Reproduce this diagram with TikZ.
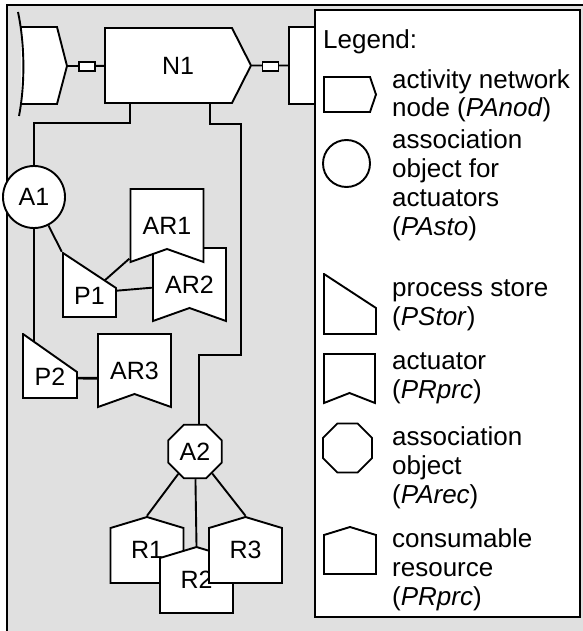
\documentclass[tikz,border=0pt]{standalone}
\usepackage{fontspec}
\setmainfont{Liberation Sans}
\usetikzlibrary{shapes.geometric,calc}
\definecolor{panelgray}{HTML}{E0E0E0}
\pgfdeclarelayer{back}
\pgfdeclarelayer{wires}
\pgfsetlayers{back,wires,main}
\newcommand{\labelfont}{\fontsize{25}{28}\selectfont}
\newcommand{\legfont}{\fontsize{26}{28.7}\selectfont}
\tikzset{
  outline/.style={draw,line width=1.9pt,fill=white},
  wire/.style={line width=1.9pt},
  obj/.style={inner sep=0pt,font=\labelfont},
  ptrlen/.store in=\ptrlen, ptrlen=20pt,
  droplen/.store in=\droplen, droplen=36pt,
  notchlen/.store in=\notchlen, notchlen=14pt,
  rooflen/.store in=\rooflen, rooflen=12pt,
  % the outlines are drawn 1pt inside the node box, so the clip keeps the whole line
  activity/.style={obj,path picture={
      \draw[outline] ([shift={(1pt,-1pt)}]path picture bounding box.north west)
        -- ([shift={(-\ptrlen,-1pt)}]path picture bounding box.north east)
        -- ([xshift=-1pt]path picture bounding box.east)
        -- ([shift={(-\ptrlen,1pt)}]path picture bounding box.south east)
        -- ([shift={(1pt,1pt)}]path picture bounding box.south west) -- cycle;}},
  pstore/.style={obj,text height=38pt,text depth=0pt,path picture={
      \draw[outline] ([shift={(1pt,-1pt)}]path picture bounding box.north west)
        -- ([shift={(-1pt,-\droplen)}]path picture bounding box.north east)
        -- ([shift={(-1pt,1pt)}]path picture bounding box.south east)
        -- ([shift={(1pt,1pt)}]path picture bounding box.south west) -- cycle;}},
  actuator/.style={obj,path picture={
      \draw[outline] ([shift={(1pt,-1pt)}]path picture bounding box.north west)
        -- ([shift={(-1pt,-1pt)}]path picture bounding box.north east)
        -- ([shift={(-1pt,1pt)}]path picture bounding box.south east)
        -- ([yshift=\notchlen]path picture bounding box.south)
        -- ([shift={(1pt,1pt)}]path picture bounding box.south west) -- cycle;}},
  resource/.style={obj,path picture={
      \draw[outline] ([shift={(1pt,1pt)}]path picture bounding box.south west)
        -- ([shift={(1pt,-\rooflen)}]path picture bounding box.north west)
        -- ([yshift=-1pt]path picture bounding box.north)
        -- ([shift={(-1pt,-\rooflen)}]path picture bounding box.north east)
        -- ([shift={(-1pt,1pt)}]path picture bounding box.south east) -- cycle;}},
  assoc/.style={obj,circle,outline,minimum size=62pt},
  assocobj/.style={obj,regular polygon,regular polygon sides=8,outline,minimum size=58pt},
  joint/.style={rectangle,outline,inner sep=0pt,minimum width=16pt,minimum height=9pt},
  panel/.style={draw,line width=2pt,fill=panelgray},
  legendbox/.style={rectangle,draw,line width=1.6pt,fill=white,inner sep=0pt,
                    minimum width=265pt,minimum height=607pt},
  % anchored on the baseline of the last line
  legtext/.style={anchor=base west,align=left,font=\legfont,inner sep=0pt},
}
\begin{document}
\begin{tikzpicture}[x=1pt,y=-1pt]
  \useasboundingbox (0,0) rectangle (582,631);
  \begin{pgfonlayer}{back}
    \draw[panel] (7,5) rectangle (640,680);
  \end{pgfonlayer}

  % the network: incoming stub, N1 and the outgoing node
  \coordinate (in1) at (67,66);
  \draw[outline] (21,27) -- (57,27) -- (in1) -- (57,104) -- (21,104);
  \draw[line width=1.9pt] (18,12) .. controls (25,45) and (25,85) .. (19,116);
  \node[joint] (c1) at (87,66.5) {};
  \node[activity,minimum width=148pt,minimum height=77pt] (N1) at (178,65.5) {N1};
  \node[joint] (c2) at (270.5,66.5) {};
  \node[rectangle,outline,minimum width=60pt,minimum height=77pt] (out1) at (319,65.5) {};

  % actuator side
  \node[assoc] (A1) at (34,197) {A1};
  \node[pstore,minimum width=55pt,minimum height=66pt] (P1) at (89.5,285) {P1};
  \node[pstore,droplen=39pt,minimum width=56pt,minimum height=66pt] (P2) at (50,366) {P2};
  \foreach \i/\x/\y in {2/189.5/284.5,1/167/225.5,3/134.5/370.5} {
    \node[actuator,minimum width=75pt,minimum height=75pt] (AR\i) at (\x,\y) {AR\i};
  }

  % resource side
  \node[assocobj] (A2) at (195,451.5) {A2};
  \foreach \i/\x/\y in {1/147/550,2/196.5/580,3/245.5/550} {
    \node[resource,minimum width=75pt,minimum height=68pt] (R\i) at (\x,\y) {R\i};
  }

  \begin{pgfonlayer}{wires}
    \draw[wire] (in1) -- (N1) -- (out1);
    \draw[wire] ([xshift=-48pt]N1.south) -- ++(0,19) -| (A1);
    \draw[wire] ([xshift=32pt]N1.south) -- ++(0,20) -- ++(31,0) -- ++(0,231)
      -| ([xshift=4pt]A2.center);
    \draw[wire] (A1) -- (P1.north west);
    \draw[wire] (A1) -- (A1 |- P2);
    \draw[wire] ([xshift=10pt]P1.center) -- (AR1);
    \draw[wire] ([yshift=-8pt]P1.center) -- (AR2);
    \draw[wire,line width=2.6pt] ([yshift=-12pt]P2.center) -- ([yshift=-8pt]AR3.center);
    \foreach \i in {1,2,3} { \draw[wire] (A2) -- (R\i.north); }
  \end{pgfonlayer}

  % legend
  \node[legendbox] (legend) at (447.5,313.5) {};
  \node[legtext] (legtitle) at (323,49) {Legend:};
  \node[activity,ptrlen=7pt,minimum width=54pt,minimum height=37pt] (leg1) at (350,94.5) {};
  \node[assoc,minimum size=47pt] (leg2) at (346.5,163.5) {};
  \node[pstore,droplen=35pt,minimum width=54pt,minimum height=62pt] (leg3) at (350,304) {};
  \node[actuator,notchlen=11pt,minimum width=53pt,minimum height=51pt] (leg4) at (349.5,378.5) {};
  \node[assocobj,minimum size=53pt] (leg5) at (347.5,448) {};
  \node[resource,rooflen=9pt,minimum width=54pt,minimum height=49pt] (leg6) at (350,550.5) {};
  \node[legtext] (txt1) at (392,117) {activity network\\node (\textit{PAnod})};
  \node[legtext] (txt2) at (392,235) {association\\object for\\actuators\\(\textit{PAsto})};
  \node[legtext] (txt3) at (392,325) {process store\\(\textit{PStor})};
  \node[legtext] (txt4) at (392,398) {actuator\\(\textit{PRprc})};
  \node[legtext] (txt5) at (392,503) {association\\object\\(\textit{PArec})};
  \node[legtext] (txt6) at (392,605) {consumable\\resource\\(\textit{PRprc})};
\end{tikzpicture}
\end{document}
